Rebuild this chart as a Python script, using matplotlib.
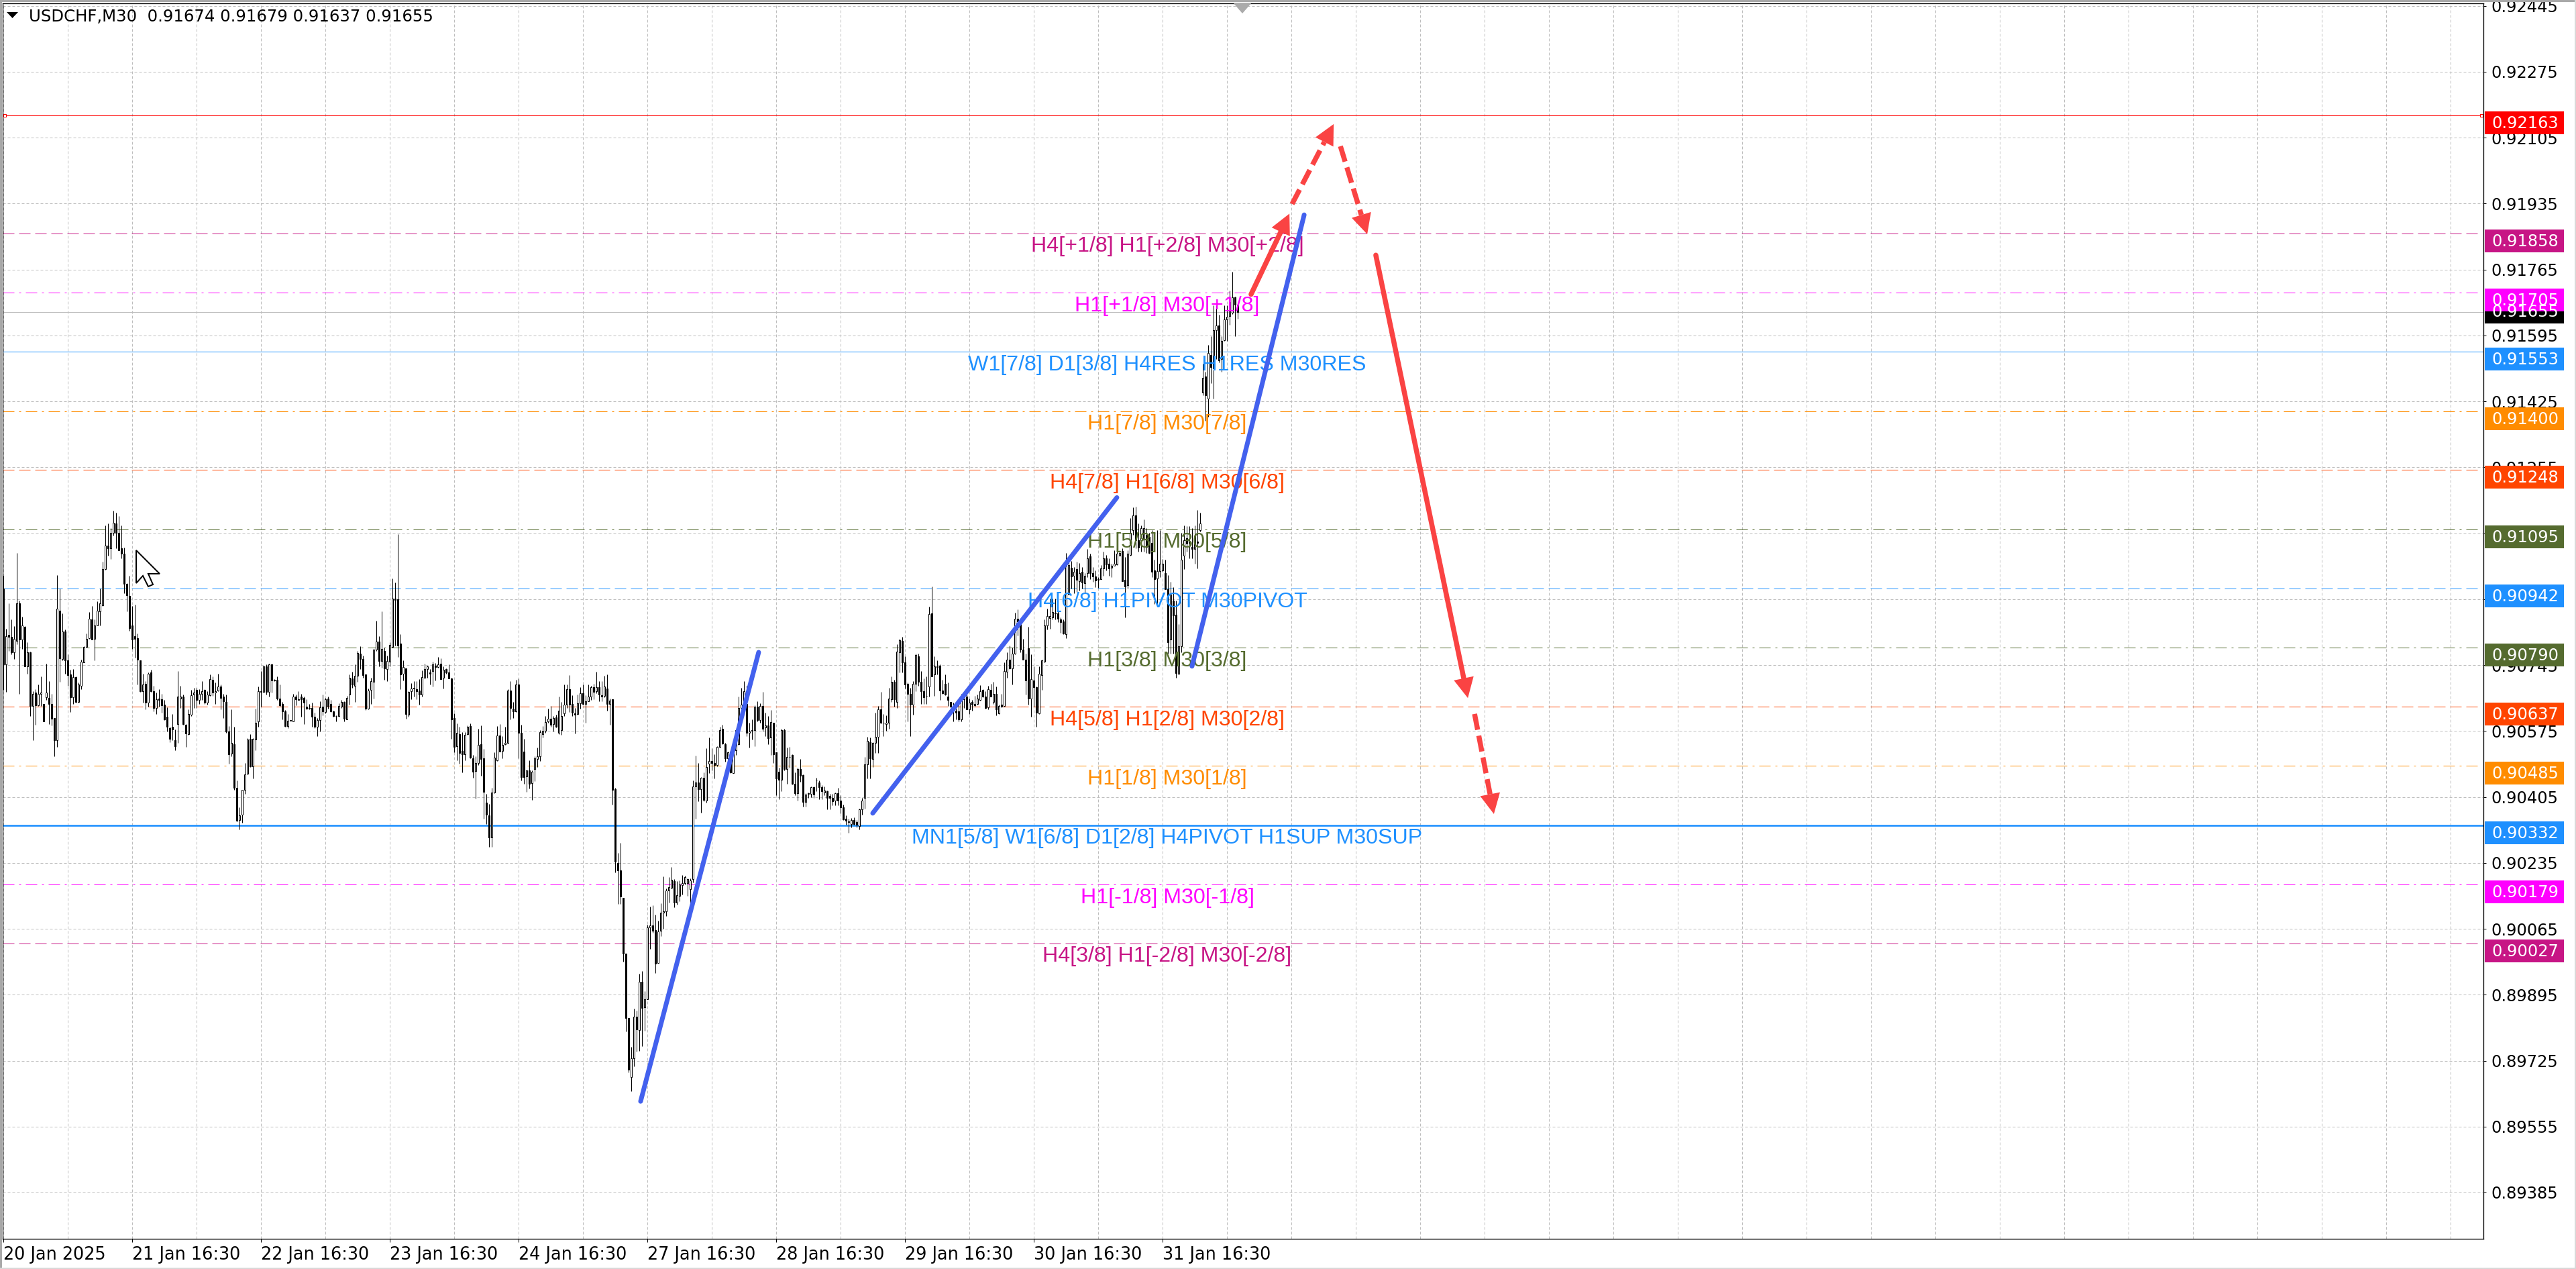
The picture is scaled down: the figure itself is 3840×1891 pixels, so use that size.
import numpy as np
import matplotlib
matplotlib.use("Agg")
import matplotlib.pyplot as plt
from matplotlib.patches import Polygon, Rectangle

# ---------- chart values (prices in 1e-5 points) ----------
opens = [
90941,90744,90821,90815,90775,90806,90903,90808,90841,90739,
90775,90638,90671,90639,90668,90642,90659,90658,90643,90606,
90548,90884,90758,90829,90755,90718,90660,90711,90647,90689,
90750,90789,90813,90860,90811,90846,90882,90897,90990,91052,
91045,91084,91109,91084,91045,91031,90952,90922,90846,90817,
90813,90755,90675,90694,90645,90723,90676,90632,90656,90655,
90640,90610,90580,90584,90548,90590,90657,90662,90588,90564,
90614,90666,90678,90653,90669,90678,90646,90665,90704,90672,
90677,90687,90661,90647,90571,90514,90539,90425,90343,90356,
90420,90462,90552,90482,90551,90598,90675,90674,90740,90674,
90744,90704,90704,90657,90642,90624,90586,90600,90598,90661,
90654,90661,90658,90635,90632,90632,90610,90584,90600,90635,
90621,90657,90642,90624,90612,90611,90636,90648,90603,90666,
90709,90690,90715,90773,90759,90719,90630,90679,90699,90783,
90804,90753,90780,90732,90751,90790,90914,90913,90799,90721,
90735,90615,90675,90684,90680,90677,90667,90710,90733,90724,
90727,90742,90738,90746,90710,90733,90724,90709,90606,90534,
90565,90521,90513,90564,90586,90502,90469,90489,90538,90502,
90388,90355,90297,90414,90497,90561,90521,90538,90541,90677,
90631,90624,90693,90568,90520,90456,90471,90437,90475,90501,
90507,90564,90573,90598,90604,90591,90608,90567,90575,90618,
90641,90680,90642,90618,90616,90644,90670,90642,90649,90661,
90686,90675,90686,90665,90664,90683,90642,90654,90423,90232,
90212,90141,89997,89831,89679,89728,89834,89800,89925,89859,
89880,90066,90070,90058,89973,90057,90103,90106,90160,90167,
90185,90130,90147,90175,90179,90179,90164,90190,90430,90440,
90423,90451,90393,90488,90495,90490,90484,90532,90578,90538,
90502,90520,90464,90523,90538,90632,90635,90643,90568,90575,
90575,90636,90600,90637,90582,90587,90555,90594,90517,90468,
90446,90575,90474,90506,90510,90436,90411,90475,90459,90389,
90411,90410,90427,90447,90440,90427,90414,90417,90405,90399,
90393,90412,90393,90376,90346,90339,90333,90343,90337,90327,
90371,90399,90487,90543,90500,90541,90557,90629,90594,90590,
90594,90654,90699,90648,90775,90805,90749,90695,90668,90640,
90694,90766,90699,90676,90664,90688,90877,90718,90739,90741,
90677,90694,90661,90647,90636,90625,90623,90603,90654,90662,
90629,90647,90639,90643,90653,90678,90661,90633,90678,90647,
90669,90618,90640,90638,90726,90756,90734,90772,90863,90851,
90782,90756,90786,90657,90703,90685,90618,90717,90751,90845,
90865,90866,90878,90877,90860,90855,90822,90925,90994,90973,
90990,90959,90984,90955,90980,91023,90981,90972,90964,90965,
90992,91019,91005,90995,91000,91003,91026,91037,90963,90949,
91027,91092,91130,91065,91065,91068,91079,91074,91059,90987,
90967,90986,90987,90981,90938,90808,90909,90873,90720,90791,
91025,91071,91062,91048,91042,91062,91092,91446,91489,91431,
91543,91509,91607,91619,91534,91582,91635,91644,91653,91692,91674]
highs = [
90973,90837,90903,90860,90843,91032,90909,90867,90844,90802,
90778,90675,90681,90692,90714,90642,90746,90701,90669,90606,
90975,90941,90877,90834,90770,90730,90732,90713,90698,90756,
90791,90825,90879,90896,90860,90907,90941,91009,91103,91109,
91097,91141,91137,91127,91104,91046,90955,90974,90896,90899,
90824,90755,90721,90701,90724,90730,90689,90672,90681,90668,
90652,90633,90584,90617,90577,90727,90689,90666,90591,90629,
90678,90684,90684,90681,90701,90681,90675,90718,90713,90698,
90721,90692,90669,90666,90586,90628,90584,90444,90375,90421,
90490,90554,90564,90554,90630,90687,90727,90741,90744,90747,
90747,90707,90713,90692,90647,90626,90616,90601,90668,90666,
90675,90669,90661,90655,90643,90646,90620,90606,90649,90667,
90658,90662,90653,90625,90613,90644,90653,90650,90663,90719,
90725,90745,90780,90792,90768,90719,90683,90710,90785,90857,
90817,90882,90788,90768,90801,90966,90956,91080,90823,90755,
90735,90675,90696,90702,90702,90707,90729,90746,90742,90733,
90751,90748,90764,90761,90739,90735,90745,90710,90618,90592,
90584,90569,90569,90587,90592,90511,90508,90579,90587,90527,
90410,90384,90426,90518,90586,90591,90560,90584,90681,90702,
90648,90705,90709,90589,90553,90471,90497,90471,90508,90530,
90575,90586,90611,90630,90638,90611,90615,90662,90647,90693,
90693,90717,90665,90632,90667,90686,90692,90665,90692,90690,
90695,90726,90702,90702,90715,90719,90657,90654,90425,90258,
90283,90141,89997,89831,89756,89856,89850,89946,89952,89901,
90072,90119,90122,90098,90083,90127,90197,90166,90196,90221,
90190,90185,90187,90201,90198,90192,90192,90445,90509,90490,
90454,90466,90528,90555,90528,90513,90534,90583,90588,90541,
90520,90520,90545,90575,90662,90684,90702,90690,90594,90603,
90639,90650,90644,90673,90620,90611,90626,90594,90517,90478,
90578,90578,90530,90532,90513,90466,90478,90500,90460,90412,
90414,90429,90429,90451,90444,90432,90429,90419,90410,90410,
90414,90426,90406,90382,90355,90346,90348,90350,90342,90372,
90400,90505,90558,90556,90543,90620,90638,90673,90617,90613,
90684,90714,90705,90796,90811,90815,90766,90698,90684,90701,
90772,90772,90727,90709,90713,90893,90945,90766,90755,90744,
90704,90718,90698,90647,90646,90635,90640,90669,90668,90666,
90657,90653,90664,90666,90691,90681,90675,90689,90694,90699,
90687,90640,90669,90750,90776,90793,90788,90878,90887,90854,
90811,90773,90841,90770,90739,90687,90740,90756,90860,90889,
90915,90915,90915,90886,90866,90860,91033,91011,91011,90996,
91009,91007,90996,90981,91042,91030,90996,90987,90970,91001,
91036,91027,91019,91005,91039,91051,91039,91045,91022,91039,
91123,91150,91152,91108,91103,91119,91097,91085,91092,91015,
91091,91091,91016,91015,90975,90957,90944,90909,90848,91085,
91103,91101,91101,91097,91104,91143,91136,91521,91501,91570,
91592,91671,91671,91647,91592,91671,91671,91710,91759,91695,91679]
lows = [
90678,90674,90779,90770,90759,90796,90669,90785,90739,90721,
90612,90548,90588,90638,90638,90597,90652,90591,90587,90508,
90531,90699,90755,90721,90689,90622,90643,90646,90646,90681,
90750,90788,90811,90808,90755,90845,90845,90896,90989,91025,
91017,91077,91045,91039,91019,90929,90882,90831,90785,90762,
90692,90674,90645,90629,90636,90674,90623,90617,90635,90620,
90600,90571,90543,90548,90522,90542,90632,90588,90531,90562,
90612,90632,90632,90643,90652,90643,90640,90664,90664,90643,
90675,90628,90606,90568,90488,90508,90420,90339,90319,90335,
90410,90461,90479,90450,90522,90584,90635,90672,90666,90661,
90672,90701,90652,90635,90603,90583,90580,90599,90597,90639,
90652,90609,90591,90629,90629,90583,90580,90560,90571,90613,
90618,90630,90621,90609,90598,90609,90632,90598,90602,90641,
90684,90647,90699,90733,90710,90627,90628,90643,90657,90780,
90739,90736,90705,90702,90740,90788,90794,90764,90681,90703,
90605,90609,90655,90661,90655,90640,90661,90710,90710,90692,
90688,90703,90736,90706,90682,90721,90708,90552,90518,90497,
90488,90465,90497,90563,90502,90452,90398,90485,90457,90346,
90332,90274,90274,90411,90495,90519,90502,90537,90540,90602,
90606,90621,90502,90445,90436,90416,90424,90394,90443,90479,
90495,90556,90567,90594,90584,90572,90582,90565,90563,90612,
90632,90621,90612,90566,90614,90631,90640,90593,90649,90653,
90655,90670,90650,90650,90660,90625,90588,90383,90207,90126,
90126,89976,89796,89691,89643,89707,89745,89747,89758,89799,
89879,90010,90052,89948,89973,90042,90061,90094,90130,90166,
90117,90124,90132,90151,90177,90147,90117,90182,90346,90391,
90361,90391,90387,90464,90470,90450,90481,90530,90538,90493,
90496,90463,90463,90511,90536,90630,90632,90560,90529,90550,
90534,90598,90594,90572,90560,90538,90511,90489,90406,90397,
90417,90470,90436,90478,90435,90406,90393,90442,90378,90378,
90400,90402,90400,90417,90396,90396,90406,90371,90371,90380,
90380,90380,90360,90342,90330,90309,90324,90331,90324,90318,
90356,90372,90450,90450,90479,90515,90515,90592,90560,90573,
90579,90647,90635,90632,90724,90724,90683,90597,90560,90614,
90675,90689,90643,90643,90643,90661,90713,90664,90718,90652,
90668,90665,90638,90633,90597,90603,90597,90597,90632,90628,
90617,90625,90635,90640,90651,90659,90630,90628,90661,90643,
90613,90616,90633,90636,90710,90733,90692,90770,90819,90776,
90756,90666,90640,90610,90635,90584,90616,90678,90750,90834,
90837,90860,90860,90854,90826,90822,90812,90925,90941,90929,
90932,90935,90941,90929,90970,90964,90958,90944,90942,90964,
90973,90987,90973,90970,90999,91001,91025,90959,90866,90941,
91025,91079,91045,91036,91036,91036,91033,91030,90970,90900,
90900,90970,90984,90938,90773,90773,90773,90710,90718,90776,
90990,91036,91019,91019,91005,90993,91088,91440,91373,91385,
91470,91431,91534,91525,91501,91580,91580,91622,91650,91592,91637]
closes = [
90744,90817,90815,90776,90810,90902,90808,90845,90740,90775,
90638,90668,90639,90668,90672,90597,90671,90643,90605,90549,
90888,90761,90829,90755,90717,90660,90711,90647,90692,90751,
90789,90810,90862,90809,90846,90884,90902,90990,91052,91045,
91085,91110,91084,91040,91031,90952,90923,90839,90809,90810,
90756,90675,90692,90645,90721,90675,90632,90655,90653,90639,
90603,90584,90553,90577,90534,90661,90662,90590,90566,90616,
90665,90672,90653,90669,90676,90646,90666,90706,90672,90676,
90688,90658,90649,90571,90513,90541,90425,90340,90354,90420,
90460,90550,90482,90553,90593,90676,90674,90740,90674,90744,
90703,90703,90656,90639,90624,90586,90599,90599,90661,90654,
90653,90654,90646,90630,90631,90610,90583,90601,90633,90623,
90654,90635,90623,90612,90611,90637,90648,90605,90658,90710,
90692,90715,90774,90758,90717,90630,90677,90701,90783,90804,
90753,90784,90735,90754,90795,90914,90911,90794,90719,90737,
90617,90673,90682,90682,90676,90666,90712,90733,90739,90721,
90744,90738,90744,90707,90731,90723,90709,90602,90532,90568,
90515,90512,90563,90583,90504,90467,90490,90537,90500,90416,
90356,90298,90414,90504,90561,90520,90537,90542,90677,90632,
90623,90693,90567,90454,90454,90471,90436,90468,90502,90507,
90569,90573,90596,90604,90588,90606,90583,90625,90611,90641,
90680,90640,90619,90615,90644,90670,90642,90649,90662,90686,
90673,90686,90667,90662,90687,90643,90651,90420,90235,90212,
90145,89998,89831,89698,89728,89834,89801,89925,89858,89879,
90066,90070,90057,89972,90054,90104,90107,90160,90169,90188,
90130,90148,90177,90179,90196,90190,90187,90430,90440,90423,
90451,90395,90480,90495,90490,90484,90532,90575,90540,90502,
90517,90465,90519,90575,90632,90641,90675,90568,90572,90573,
90636,90601,90638,90578,90587,90554,90596,90513,90450,90447,
90575,90474,90505,90505,90436,90412,90475,90457,90389,90408,
90410,90427,90408,90446,90427,90417,90419,90399,90399,90391,
90412,90393,90376,90345,90340,90338,90342,90333,90330,90370,
90393,90486,90547,90502,90541,90557,90629,90594,90593,90594,
90656,90699,90654,90777,90807,90750,90692,90668,90640,90694,
90769,90699,90676,90660,90663,90874,90714,90739,90738,90677,
90670,90666,90652,90636,90629,90620,90603,90655,90664,90629,
90646,90640,90643,90656,90676,90661,90632,90680,90662,90668,
90628,90638,90636,90727,90757,90734,90772,90863,90856,90782,
90757,90703,90657,90707,90685,90620,90720,90755,90845,90869,
90870,90880,90877,90862,90854,90824,91001,91001,90971,90984,
90963,90980,90956,90974,91019,90981,90972,90961,90963,90992,
91019,91003,90992,90999,91004,91030,91032,90960,90945,91030,
91085,91130,91065,91046,91096,91096,91048,91033,90984,90965,
90986,91005,91005,90938,90802,90925,90871,90722,90791,91015,
91065,91056,91059,91042,91077,91059,91109,91485,91440,91549,
91513,91607,91619,91529,91580,91635,91643,91681,91692,91673,91655]

level_prices = [0.92163,0.91858,0.91705,0.91553,0.91400,0.91248,0.91095,
                0.90942,0.90790,0.90637,0.90485,0.90332,0.90179,0.90027]
level_colors = ["#FF0000","#C71585","#FF00FF","#1E90FF","#FF8C00","#FF4500","#556B2F",
                "#1E90FF","#556B2F","#FF4500","#FF8C00","#1E90FF","#FF00FF","#C71585"]
level_styles = ["solid","dash","dashdot","solid","dashdot","dash","dashdot",
                "dash","dashdot","dash","dashdot","solidthick","dashdot","dash"]
level_labels = ["",
 "H4[+1/8] H1[+2/8] M30[+2/8]","H1[+1/8] M30[+1/8]",
 "W1[7/8] D1[3/8] H4RES H1RES M30RES","H1[7/8] M30[7/8]",
 "H4[7/8] H1[6/8] M30[6/8]","H1[5/8] M30[5/8]",
 "H4[6/8] H1PIVOT M30PIVOT","H1[3/8] M30[3/8]",
 "H4[5/8] H1[2/8] M30[2/8]","H1[1/8] M30[1/8]",
 "MN1[5/8] W1[6/8] D1[2/8] H4PIVOT H1SUP M30SUP",
 "H1[-1/8] M30[-1/8]","H4[3/8] H1[-2/8] M30[-2/8]"]
current_price = 0.91655
price_ticks = [0.92445,0.92275,0.92105,0.91935,0.91765,0.91595,0.91425,0.91255,0.91085,
               0.90915,0.90745,0.90575,0.90405,0.90235,0.90065,0.89895,0.89725,0.89555,0.89385]
date_labels = ["20 Jan 2025","21 Jan 16:30","22 Jan 16:30","23 Jan 16:30","24 Jan 16:30",
               "27 Jan 16:30","28 Jan 16:30","29 Jan 16:30","30 Jan 16:30","31 Jan 16:30"]
title_text = "USDCHF,M30  0.91674 0.91679 0.91637 0.91655"

# trend lines and forecast arrows: (bar, price) ends
trend_bars = [(237.4,281.4),(323.9,414.9),(442.9,484.7)]
trend_prices = [(0.89620,0.90778),(0.90363,0.91177),(0.90742,0.91906)]
arrow_bars = [(464.9,479.2),(480.2,495.7),(498.2,508.2),(511.4,545.7),(548.2,555.4)]
arrow_prices = [(0.91701,0.91909),(0.91934,0.92140),(0.92083,0.91856),(0.91802,0.90660),(0.90619,0.90361)]
arrow_dashed = [False,True,True,False,True]

# ---------- figure ----------
PX = 0.72
W, H = 3840, 1891
plt.rcParams["lines.scale_dashes"] = False
plt.rcParams["font.family"] = ["DejaVu Sans"]
fig = plt.figure(figsize=(W/100, H/100), dpi=100, facecolor="white")
L, R, T, B = 4, 3702, 5, 1846
ax = fig.add_axes([L/W, 1-B/H, (R-L)/W, (B-T)/H])
ov = fig.add_axes([0, 0, 1, 1], zorder=10)
ov.set_xlim(0, W); ov.set_ylim(H, 0); ov.axis("off"); ov.patch.set_alpha(0)

# prices were first read with a scale 0.16% too coarse; refer them to the 0.92163 line
READ_SCALE = 0.99844
o, h, l, c = [0.92163 - (0.92163 - np.array(a)/1e5)*READ_SCALE for a in (opens, highs, lows, closes)]
x = np.arange(len(o))
ax.set_xlim(-0.33, 924.17)
ax.set_ylim(0.892656, 0.924513)

GRID = "#BDBDBD"
ax.set_axisbelow(True)
ax.set_yticks(price_ticks)
ax.set_yticklabels([f"{p:.5f}" for p in price_ticks])
ax.yaxis.tick_right()
ax.set_xticks(np.arange(len(date_labels))*48)
ax.set_xticklabels(date_labels, ha="left")
ax.set_xticks(np.arange(24, 925, 24), minor=True)
ax.tick_params(axis="y", length=4*PX, width=PX, pad=7*PX, labelsize=17.4)
ax.tick_params(axis="x", length=5*PX, width=PX, pad=6*PX, labelsize=18.4)
ax.tick_params(axis="x", which="minor", length=0)
griddash = (0, (4*PX, 3*PX))
ax.grid(True, axis="y", color=GRID, lw=PX, linestyle=griddash)
ax.grid(True, axis="x", which="both", color=GRID, lw=PX, linestyle=griddash)
for s in ax.spines.values():
    s.set_linewidth(1.3*PX)

dash = (0, (17*PX, 7*PX))
dashdot = (0, (17*PX, 7*PX, 3*PX, 7*PX))
x_dash_end = (3696-5.33)/4
for p, col, st in zip(level_prices, level_colors, level_styles):
    if st.startswith("solid"):
        ax.plot([-0.33, 924.17], [p, p], color=col, lw=(2.6 if st == "solidthick" else 1)*PX, zorder=1)
    else:
        ax.plot([-0.33, x_dash_end], [p, p], color=col, lw=PX, zorder=1,
                linestyle=dash if st == "dash" else dashdot)
ax.axhline(current_price, color="#BDBDBD", lw=PX, zorder=1)

ax.vlines(x, l, h, color="black", lw=PX, zorder=2)
up = c >= o
bt, bb = np.maximum(o, c), np.minimum(o, c)
ax.bar(x[up], (bt-bb)[up], bottom=bb[up], width=0.5, facecolor="white", edgecolor="black", lw=PX, zorder=3)
ax.bar(x[~up], (bt-bb)[~up], bottom=bb[~up], width=0.5, facecolor="black", edgecolor="black", lw=PX, zorder=3)

label_x = (1740-5.33)/4
for p, col, txt in zip(level_prices, level_colors, level_labels):
    if txt:
        ax.annotate(txt, xy=(label_x, p), xytext=(0, -19.5*PX), textcoords="offset points",
                    ha="center", va="center", fontsize=23.1, color=col,
                    family="Liberation Sans", zorder=4)

BLUE, RED = "#4361EE", "#FA4343"
for xs, ps in zip(trend_bars, trend_prices):
    ax.plot(xs, ps, color=BLUE, lw=7*PX, solid_capstyle="round", zorder=5)

fig.canvas.draw()
def to_px(bx, p):
    d = ax.transData.transform((bx, p))
    return d[0], H - d[1]

for xs, ps, dashed in zip(arrow_bars, arrow_prices, arrow_dashed):
    x0, y0 = to_px(xs[0], ps[0]); x1, y1 = to_px(xs[1], ps[1])
    u = np.array([x1-x0, y1-y0]); u = u/np.hypot(*u); n = np.array([-u[1], u[0]])
    tip = np.array([x1, y1]); base = tip - 30*u
    kw = dict(linestyle=(0, (24*PX, 9*PX)), dash_capstyle="butt") if dashed else dict(solid_capstyle="round")
    ov.plot([x0, base[0]], [y0, base[1]], color=RED, lw=7.5*PX, **kw)
    ov.add_patch(Polygon([tip, base+15*n, base-15*n], closed=True, facecolor=RED, edgecolor="none"))

# price tags
tag_l, tag_r = 3704, 3822
_, cy = to_px(0, current_price)
ov.add_patch(Rectangle((tag_l, cy-17), tag_r-tag_l, 34, facecolor="black", edgecolor="none"))
ov.text(3714, cy, f"{current_price:.5f}", color="white", fontsize=17.4, va="center", ha="left")
for p, col in zip(level_prices, level_colors):
    _, y = to_px(0, p)
    ov.add_patch(Rectangle((tag_l, y-6), tag_r-tag_l, 34, facecolor=col, edgecolor="none"))
    ov.text(3714, y+12, f"{p:.5f}", color="white", fontsize=17.4, va="center", ha="left")

# handles on the red line
_, ry = to_px(0, level_prices[0])
for hx in (7, 3699):
    ov.add_patch(Rectangle((hx-2, ry-2), 4, 4, facecolor="white", edgecolor="red", lw=PX))

# header
ov.add_patch(Polygon([(10, 18), (27, 18), (18.5, 27)], closed=True, facecolor="black", edgecolor="none"))
ov.text(43, 25, title_text, fontsize=17.6, va="center", ha="left", color="black")

# shift marker and mouse cursor
ov.add_patch(Polygon([(1838, 4), (1866, 4), (1852, 20)], closed=True, facecolor="#ABABAB", edgecolor="none"))
ov.add_patch(Polygon([(203, 820), (238, 855), (221, 855), (228, 871), (221, 874), (213, 858), (203, 869)],
                     closed=True, facecolor="white", edgecolor="black", lw=2*PX))

# window edges
ov.add_patch(Rectangle((0, 0), W, 3, facecolor="#A9A9A9", edgecolor="none"))
ov.add_patch(Rectangle((0, 0), 2.5, H, facecolor="#A9A9A9", edgecolor="none"))
ov.add_patch(Rectangle((W-2.5, 0), 2.5, H, facecolor="#D9D9D9", edgecolor="none"))
ov.add_patch(Rectangle((0, H-2.5), W, 2.5, facecolor="#D9D9D9", edgecolor="none"))

fig.savefig("out.png", dpi=100, facecolor="white")
